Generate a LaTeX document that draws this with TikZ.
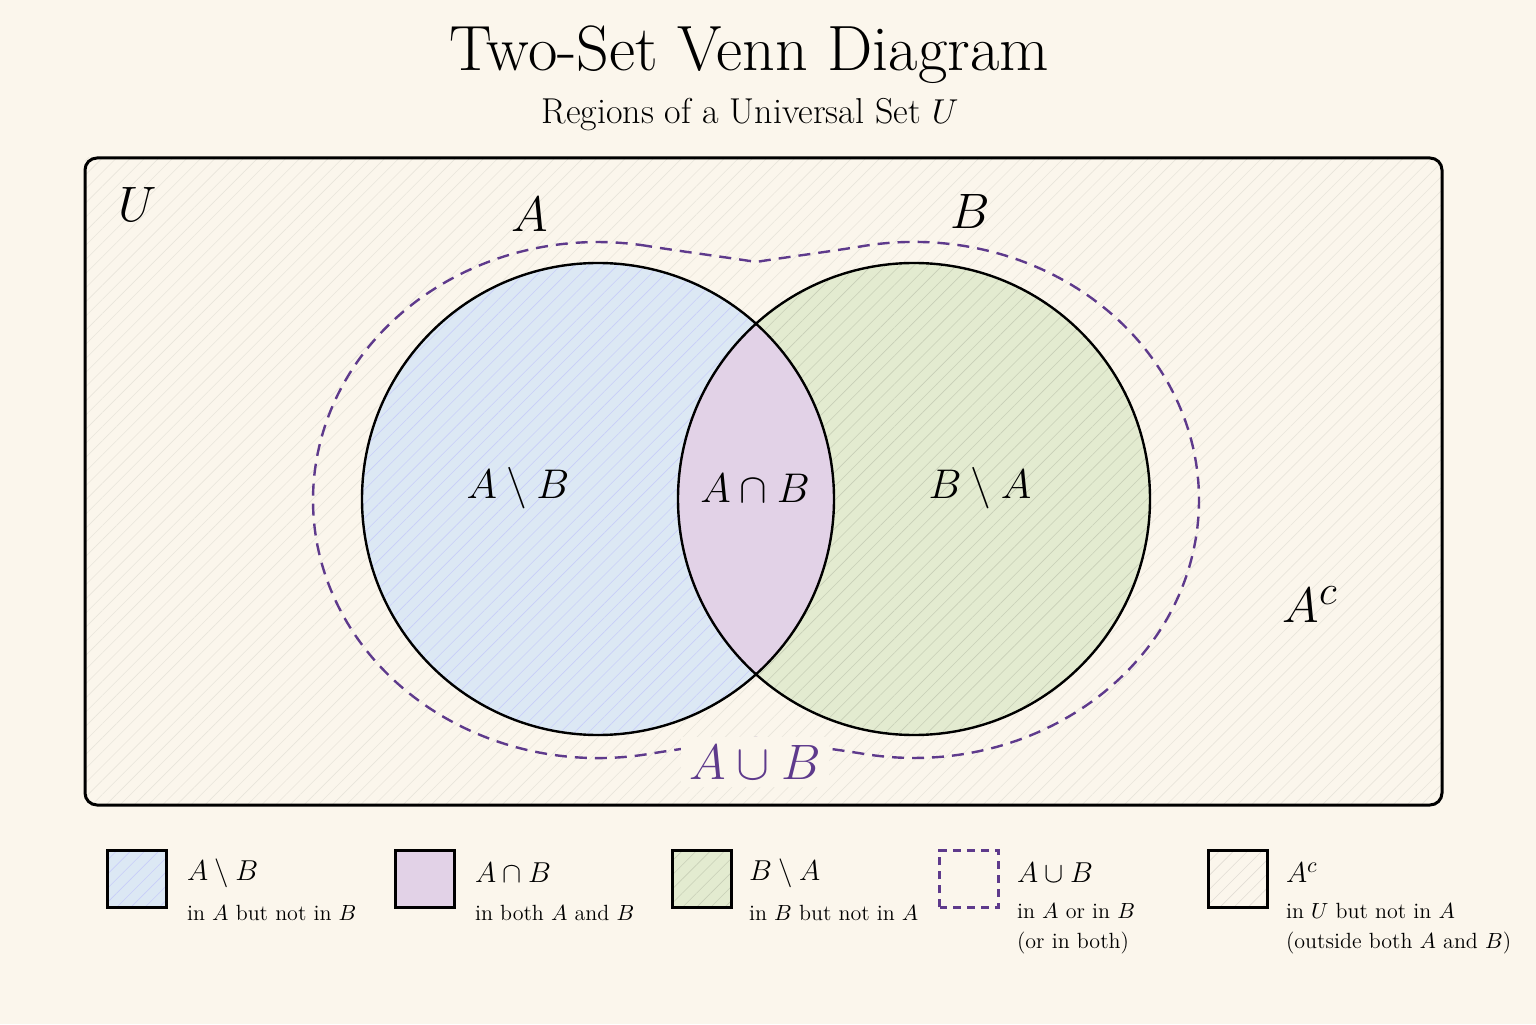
\documentclass[tikz,border=0pt]{standalone}
\usepackage{amssymb}
\usetikzlibrary{patterns.meta}
\definecolor{cream}{HTML}{FBF6EC}
\definecolor{blueA}{HTML}{DCE8F4}
\definecolor{greenB}{HTML}{E3EBD0}
\definecolor{purpI}{HTML}{E2D2E7}
\definecolor{purpL}{HTML}{5E3A8C}
\tikzset{
  hatch/.style={pattern={Lines[angle=45,distance=5pt,line width=0.3pt]},pattern color=#1},
  lbox/.style={draw=none,minimum width=29pt,minimum height=28pt,inner sep=0pt},
  ltitle/.style={anchor=west,font=\fontsize{15}{18}\selectfont},
  ldesc/.style={anchor=west,font=\fontsize{11}{15}\selectfont,align=left},
  reg/.style={font=\fontsize{22}{26}\selectfont},
}
\begin{document}
\begin{tikzpicture}[x=0.5pt,y=0.5pt]
\fill[cream] (0,0) rectangle (1536,1024);
\useasboundingbox (0,0) rectangle (1536,1024);
\node (title) at (749,969) {\fontsize{32}{38}\selectfont Two-Set Venn Diagram};
\node (sub) at (750,909) {\fontsize{18}{22}\selectfont Regions of a Universal Set $U$};
\fill[hatch=cream!93!black] (85,866) rectangle (1442,219);
\draw[line width=1.5pt,rounded corners=6pt] (85,866) rectangle (1442,219);
\node (U) at (138,819) {\fontsize{28}{32}\selectfont$U$};
% circles
\fill[blueA] (598,525) circle (236);
\fill[greenB] (914,525) circle (236);
\begin{scope}\clip (598,525) circle (236); \fill[purpI] (914,525) circle (236);\end{scope}
\begin{scope}\clip (914,525) circle (236) [reset cm] (0,0) rectangle (1536,1024);
\fill[hatch=blueA!80!blue!70] (598,525) circle (236);\end{scope}
\begin{scope}\clip (598,525) circle (236) [reset cm] (0,0) rectangle (1536,1024);
\fill[hatch=greenB!88!black] (914,525) circle (236);\end{scope}
\draw[line width=1.2pt] (598,525) circle (236);
\draw[line width=1.2pt] (914,525) circle (236);
% union outline
\draw[purpL,line width=1.2pt,dash pattern=on 6pt off 4pt]
  (647.5,778) arc[start angle=80,end angle=280,x radius=285,y radius=258]
  .. controls (678,275) and (732,282) .. (756,286)
  .. controls (780,282) and (834,275) .. (864.5,270)
  arc[start angle=260,end angle=460,x radius=285,y radius=258]
  .. controls (834,773) and (780,766) .. (756,762)
  .. controls (732,766) and (678,773) .. (647.5,778);
\node[fill=cream,text=purpL,inner sep=4pt] (AuB) at (755,262) {\fontsize{26}{30}\selectfont$A\cup B$};
\node (A) at (530,809) {\fontsize{28}{32}\selectfont$A$};
\node (B) at (970,812) {\fontsize{28}{32}\selectfont$B$};
\node[reg] (AmB) at (518,536) {$A\setminus B$};
\node[reg] (AiB) at (755,536) {$A\cap B$};
\node[reg] (BmA) at (980,536) {$B\setminus A$};
\node (Ac) at (1310,419) {\fontsize{28}{32}\selectfont$A^{c}$};
% legend
\node[lbox,fill=blueA,postaction={hatch=blueA!80!blue!70}] (l1) at (137,145) {};
\node[lbox,fill=purpI] (l2) at (425,145) {};
\node[lbox,fill=greenB,postaction={hatch=greenB!88!black}] (l3) at (702,145) {};
\node[lbox,fill=cream] (l4) at (969,145) {};
\node[lbox,fill=cream,postaction={hatch=cream!90!black}] (l5) at (1238,145) {};
\foreach \n in {l1,l2,l3,l5} \draw[line width=1.2pt] (\n.south west) rectangle (\n.north east);
\draw[purpL,line width=1.2pt,dash pattern=on 4pt off 3pt] (l4.south west) rectangle (l4.north east);
\node[ltitle] at (180,151) {$A\setminus B$};
\node[ldesc] at (180,111) {in $A$ but not in $B$};
\node[ltitle] at (468,151) {$A\cap B$};
\node[ldesc] at (468,111) {in both $A$ and $B$};
\node[ltitle] at (742,151) {$B\setminus A$};
\node[ldesc] at (742,111) {in $B$ but not in $A$};
\node[ltitle] at (1010,151) {$A\cup B$};
\node[ldesc] at (1010,95) {in $A$ or in $B$\\(or in both)};
\node[ltitle] at (1279,151) {$A^{c}$};
\node[ldesc] at (1279,95) {in $U$ but not in $A$\\(outside both $A$ and $B$)};
\end{tikzpicture}
\end{document}
